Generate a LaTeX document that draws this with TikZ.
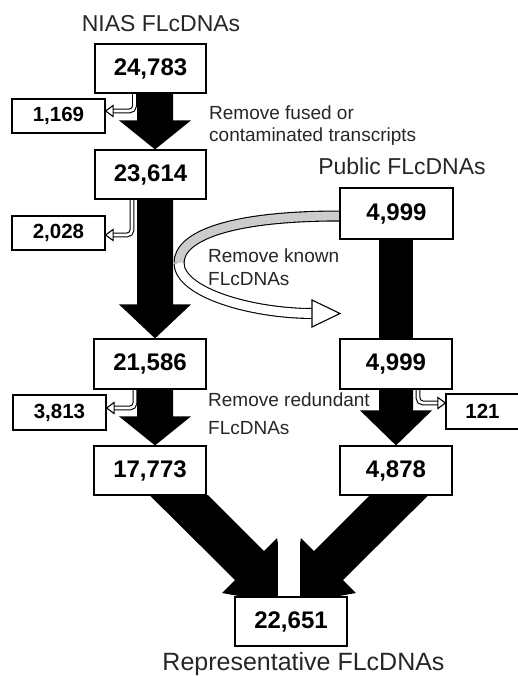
\documentclass[tikz,border=0pt]{standalone}
\usepackage{fontspec}
\setmainfont{Liberation Sans}
\usetikzlibrary{calc}
\pgfdeclarelayer{bg}
\pgfsetlayers{bg,main}
\newcommand{\bigdown}[5]{\fill let \p1=(#1), \p2=(#2) in (\x1-#3,\y1) -- (\x1+#3,\y1) -- (\x1+#3,\y2+#5) -- (\x1+#4,\y2+#5) -- (\x1,\y2) -- (\x1-#4,\y2+#5) -- (\x1-#3,\y2+#5) -- cycle;}
\begin{document}
\begin{tikzpicture}[x=1pt,y=-1pt,
  box/.style={draw, line width=1.2pt, fill=white, inner sep=0pt, font=\fontsize{24}{28}\selectfont\bfseries},
  sbox/.style={box, font=\fontsize{20.5}{24}\selectfont\bfseries},
  title/.style={inner sep=0pt, anchor=base, text=black!85},
  note/.style={inner sep=0pt, anchor=base west, font=\fontsize{19}{22}\selectfont, text=black!85},
  hol/.style={draw=black, line width=1.1pt, double=white, double distance=2.6pt, rounded corners=5pt},
  holhead/.style={fill=white, draw=black, line width=1.1pt, line join=miter}]
\useasboundingbox (0,0) rectangle (517,676);

% boxes
\node[box, minimum width=111, minimum height=49] (b24783) at (150.5,68.5) {24,783};
\node[sbox, minimum width=93, minimum height=34] (b1169) at (58.5,116) {1,169};
\node[box, minimum width=111, minimum height=49] (b23614) at (150.5,174.5) {23,614};
\node[sbox, minimum width=93, minimum height=34] (b2028) at (58.5,233) {2,028};
\node[box, minimum width=112, minimum height=50] (b21586) at (150,364) {21,586};
\node[sbox, minimum width=93, minimum height=35] (b3813) at (59.5,412.5) {3,813};
\node[box, minimum width=112, minimum height=49] (b17773) at (150,470.5) {17,773};
\node[box, minimum width=113, minimum height=51] (bpub) at (396.5,213.5) {4,999};
\node[box, minimum width=112, minimum height=50] (b4999) at (396,364) {4,999};
\node[sbox, minimum width=73, minimum height=35] (b121) at (482.5,411.5) {121};
\node[box, minimum width=112, minimum height=49] (b4878) at (396,470.5) {4,878};
\node[box, minimum width=112, minimum height=49] (b22651) at (291,621.5) {22,651};

% titles
\node[title, font=\fontsize{23}{27}\selectfont] (tNIAS) at (161,32) {NIAS FLcDNAs};
\node[title, font=\fontsize{23}{27}\selectfont] (tPub) at (402,175) {Public FLcDNAs};
\node[title, font=\fontsize{25}{29}\selectfont] (tRep) at (303.5,670) {Representative FLcDNAs};

% notes
\node[note] (n1a) at (209,120) {Remove fused or};
\node[note] (n1b) at (209,142) {contaminated transcripts};
\node[note] (n2a) at (208,262) {Remove known};
\node[note] (n2b) at (208,285) {FLcDNAs};
\node[note] (n3a) at (208,406) {Remove redundant};
\node[note] (n3b) at (208,434) {FLcDNAs};

\coordinate (cL) at (155,0);
\coordinate (cR) at (396,0);
\coordinate (h1) at (134.5,111);
\coordinate (h2) at (132,235);
\coordinate (h3) at (135,408);
\coordinate (h4) at (418,403);

\begin{pgfonlayer}{bg}
  % big vertical arrows
  \bigdown{b24783.south -| cL}{b23614.north -| cL}{18pt}{36pt}{29pt}
  \bigdown{b23614.south -| cL}{b21586.north -| cL}{18pt}{36pt}{34pt}
  \bigdown{b21586.south -| cL}{b17773.north -| cL}{18pt}{36pt}{29pt}
  \fill ($(bpub.south -| cR)+(-17,0)$) rectangle ($(b4999.north -| cR)+(17,0)$);
  \bigdown{b4999.south -| cR}{b4878.north -| cR}{17pt}{36pt}{35pt}

  % converging arrows
  \fill (b17773.south) -- (208,495) -- (264,551) -- (277,538) -- (289,605) -- (222,593) -- (235,580) -- cycle;
  \fill ($(b4878.south)+(32,0)$) -- (370,495) -- (314,551) -- (301,538) -- (289,605) -- (356,593) -- (343,580) -- cycle;
  \fill[white] (278,528) rectangle (300,598);

  % curved band
  \coordinate (bs) at ($(bpub.west)+(0,2.5)$);
  \coordinate (bm) at (179,263);
  \coordinate (be) at (313,313.5);
  \coordinate (btip) at (340,313.5);
  \draw[line width=11pt, line cap=butt] (bs) .. controls (230,216) and (179,236) .. (bm);
  \draw[line width=11pt, line cap=butt] (bm) .. controls (179,292) and (250,313.5) .. (be);
  \draw[line width=8.8pt, gray!40, line cap=butt] (bs) .. controls (230,216) and (179,236) .. (bm);
  \draw[line width=8.8pt, white, line cap=butt] (bm) .. controls (179,292) and (250,313.5) .. (be);
  \filldraw[holhead] (btip) -- ++(-28,-13.5) -- ++(0,27) -- cycle;

  % small hollow arrows
  \draw[hol] (b24783.south -| h1) |- ($(b1169.east |- h1)+(7,0)$);
  \filldraw[holhead] (b1169.east |- h1) -- ++(7.5,-5.5) -- ++(0,11) -- cycle;
  \draw[hol] (b23614.south -| h2) |- ($(b2028.east |- h2)+(7,0)$);
  \filldraw[holhead] (b2028.east |- h2) -- ++(7.5,-5.5) -- ++(0,11) -- cycle;
  \draw[hol] (b21586.south -| h3) |- ($(b3813.east |- h3)+(7,0)$);
  \filldraw[holhead] (b3813.east |- h3) -- ++(7.5,-5.5) -- ++(0,11) -- cycle;
  \draw[hol] (b4999.south -| h4) |- ($(b121.west |- h4)+(-7,0)$);
  \filldraw[holhead] (b121.west |- h4) -- ++(-7.5,-5.5) -- ++(0,11) -- cycle;
\end{pgfonlayer}
\end{tikzpicture}
\end{document}
